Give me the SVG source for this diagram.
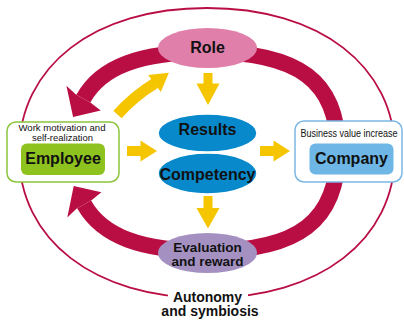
<svg xmlns="http://www.w3.org/2000/svg" width="404" height="322" viewBox="0 0 404 322">
<style>
.t{font-family:"Liberation Sans",Arial,sans-serif;fill:#111;text-anchor:middle}
.b{font-weight:bold}
.ring{fill:none;stroke:#b90e44;stroke-width:16}
.crim{fill:#b90e44}
.yel{fill:#f5c500}
.blue{fill:#0889cb;stroke:#fff;stroke-width:1.5}
</style>
<rect width="404" height="322" fill="#fff"/>
<g id="outer">
<path d="M207,8 C319.8,8 395,66 395,153 C395,240 319.8,298 207,298 C94.2,298 19,240 19,153 C19,66 94.2,8 207,8 Z" fill="none" stroke="#b90e44" stroke-width="1.8"/>
<rect x="168" y="286" width="80" height="16" fill="#fff"/>
</g>
<g id="connectors">
<path class="ring" d="M207,52 C298.7,52 338,81.4 338,150 C338,220.7 298.7,251 207,251"/>
<path class="ring" d="M207,52 C140.85,52 101.16,66.41 83.3,98.58"/>
<polygon class="crim" points="73.1,117 100.7,110.5 90.7,102.7 75.9,94.5 66.4,85.8"/>
<path class="ring" d="M207,251 C141.8,251 102.3,236.6 84.1,204.4"/>
<polygon class="crim" points="73.7,186.1 101.4,192.3 91.5,200.2 76.7,208.6 67.3,217.4"/>
<path d="M117.5,114.5 Q134,96 155,83.2" fill="none" stroke="#f5c500" stroke-width="11"/>
<polygon class="yel" points="168.9,72.7 160.8,91.9 148.2,75.1"/>
<polygon class="yel" points="203.5,73 212.5,73 212.5,83.5 219.5,83.5 208,105 196.5,83.5 203.5,83.5"/>
<polygon class="yel" points="203.5,196 212.5,196 212.5,208 219.5,208 208,228.5 196.5,208 203.5,208"/>
<polygon class="yel" points="127,146 140.5,146 140.5,140.5 157,151 140.5,161.5 140.5,156 127,156"/>
<polygon class="yel" points="260,146 273.5,146 273.5,140.5 290,151 273.5,161.5 273.5,156 260,156"/>
</g>
<g id="role">
<ellipse cx="207.5" cy="48" rx="49.5" ry="20" fill="#e07fa9"/>
<text class="t b" x="207.5" y="52.5" font-size="16">Role</text>
</g>
<g id="results">
<ellipse class="blue" cx="207.5" cy="133" rx="49.5" ry="19"/>
<text class="t b" x="207.5" y="135" font-size="16">Results</text>
</g>
<g id="competency">
<ellipse class="blue" cx="207.5" cy="173.5" rx="49.5" ry="20.5"/>
<text class="t b" x="207.5" y="180" font-size="16">Competency</text>
</g>
<g id="evaluation">
<ellipse cx="207.5" cy="253" rx="49.5" ry="20" fill="#a491c1"/>
<text class="t b" x="207.5" y="252" font-size="13.5">Evaluation</text>
<text class="t b" x="207.5" y="265.5" font-size="13.5">and reward</text>
</g>
<g id="employee">
<rect x="7" y="122" width="112" height="60" rx="9" fill="#fff" stroke="#8cc43c" stroke-width="1.5"/>
<text class="t" x="62" y="130.5" font-size="9.5" textLength="87" lengthAdjust="spacingAndGlyphs">Work motivation and</text>
<text class="t" x="62.5" y="141" font-size="9.5" textLength="61" lengthAdjust="spacingAndGlyphs">self-realization</text>
<rect x="21" y="143.5" width="84" height="31.5" rx="6" fill="#8dc21f"/>
<text class="t b" x="63" y="163.5" font-size="16">Employee</text>
</g>
<g id="company">
<rect x="295" y="121" width="107" height="61" rx="9" fill="#fff" stroke="#7ab8e4" stroke-width="1.5"/>
<text class="t" x="349" y="136.5" font-size="10" textLength="97" lengthAdjust="spacingAndGlyphs">Business value increase</text>
<rect x="309.5" y="143.5" width="84" height="31" rx="6" fill="#6db6e6"/>
<text class="t b" x="351.5" y="163.5" font-size="16">Company</text>
</g>
<g id="autonomy">
<text class="t b" x="207.5" y="301.5" font-size="14">Autonomy</text>
<text class="t b" x="210" y="316" font-size="14">and symbiosis</text>
</g>
</svg>
